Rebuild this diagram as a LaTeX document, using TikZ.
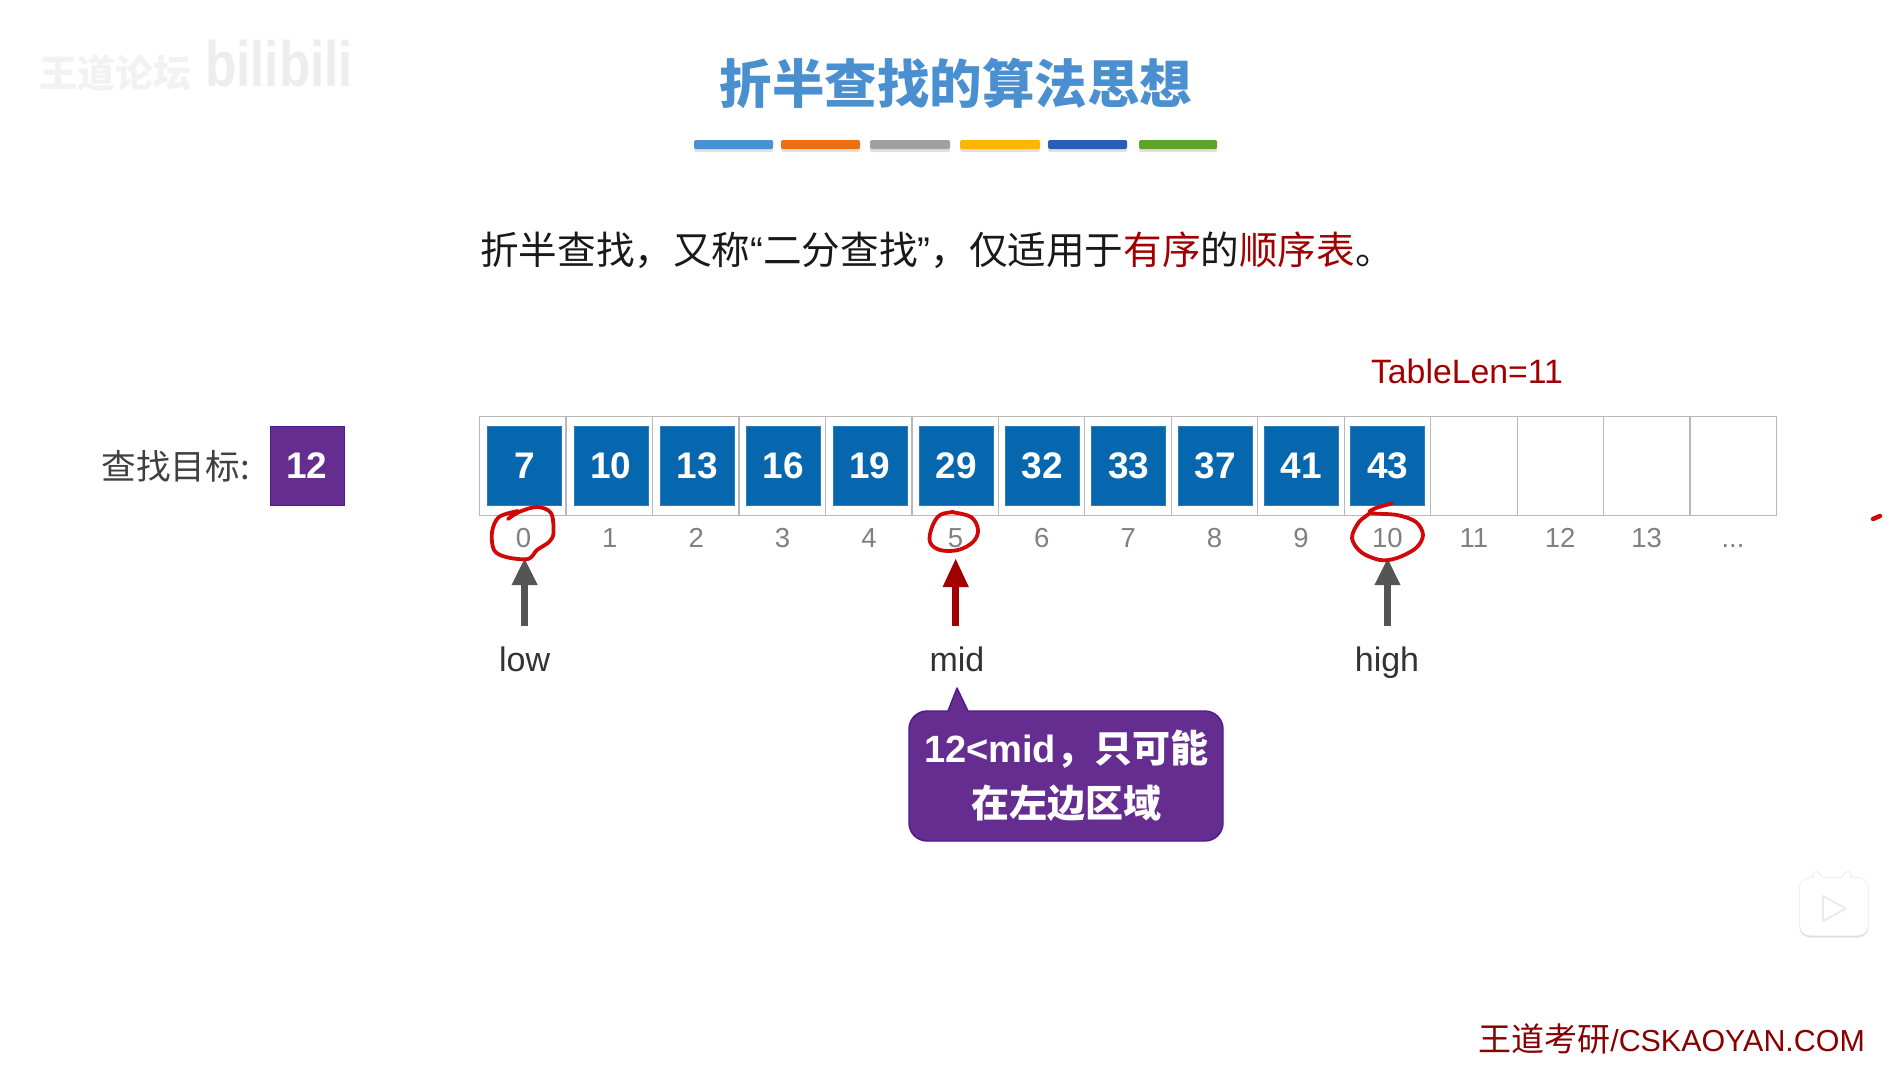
\documentclass[tikz,border=0pt]{standalone}
\usepackage{fontspec}
\usetikzlibrary{arrows.meta}
\setmainfont{Liberation Sans}
\newfontfamily\cjk{Noto Sans CJK SC}
\newcommand{\fsz}[1]{\fontsize{#1}{#1}\selectfont}
\definecolor{titleblue}{HTML}{4A8FD0}
\definecolor{cellblue}{HTML}{0667AE}
\definecolor{violet}{HTML}{662D91}
\definecolor{violetedge}{HTML}{4E1A8C}
\definecolor{darkred}{HTML}{A00000}
\definecolor{inkred}{HTML}{D00808}
\definecolor{arrowgray}{HTML}{555555}
\tikzset{
  cellbox/.style={draw=black!28,line width=1.2pt,minimum width=86.46pt,minimum height=99pt,inner sep=0pt},
  valbox/.style={fill=cellblue,draw=cellblue!85!white,line width=.6pt,minimum width=74pt,minimum height=79.5pt,inner sep=0pt,text=white,font=\fsz{37}\bfseries},
  idx/.style={inner sep=0pt,text=black!50,font=\fsz{27.5}},
  ptrlabel/.style={anchor=base,inner sep=0pt,text=black!80,font=\fsz{34}},
  ptrgray/.style={line width=7pt,arrowgray,-{Triangle[length=27pt,width=24pt]}},
  ptrred/.style={line width=7pt,darkred,-{Triangle[length=29pt,width=24pt]}},
  ink/.style={draw=inkred,line width=3.8pt,line cap=round,line join=round},
}
\begin{document}
\begin{tikzpicture}[x=1pt,y=-1pt]
\useasboundingbox (0,0) rectangle (1904,1066);
\fill[white] (0,0) rectangle (1904,1066);

% faint watermarks
\node[inner sep=0pt,text=black!5] (wm1) at (115,73) {\cjk\bfseries\fsz{38}王道论坛};
\node[inner sep=0pt,text=black!7,font=\fsz{64}\bfseries,xscale=.8] (wm2) at (279,64) {bilibili};

% title
\node[inner sep=0pt,text=titleblue] (title) at (956,83) {\cjk\bfseries\fsz{52.5}折半查找的算法思想};

% colour bars
\foreach \xa/\xb/\colr in {694/773/4A90D4,781/860/EE6F12,870/950/A0A0A0,960/1040/FDB600,1048/1127/2B5DB8,1139/1217/5EA42C}{
  \definecolor{barcol}{HTML}{\colr}
  \fill[black!12,rounded corners=1.5pt] (\xa,142) rectangle (\xb,152);
  \fill[barcol,rounded corners=1.5pt] (\xa,140) rectangle (\xb,149);
}

% statement
\node[anchor=west,inner sep=0pt,text=black!90] (intro) at (480,250.5) {\cjk\fsz{38.6}折半查找，又称{\rmfamily“}二分查找{\rmfamily”}，仅适用于\textcolor{darkred}{有序}的\textcolor{darkred}{顺序表}。};

% table length
\node[anchor=base,inner sep=0pt,text=darkred,font=\fsz{33.8}] (tlen) at (1467,383) {TableLen=11};

% target
\node[anchor=east,inner sep=0pt,text=black!75] (tlabel) at (250,466) {\cjk\fsz{34.6}查找目标:};
\node[fill=violet,draw=violetedge,line width=.8pt,minimum width=74pt,minimum height=79pt,inner sep=0pt,text=white,font=\fsz{37}\bfseries] (target) at (307,465.5) {12};

% empty cells and values
\foreach \i in {0,...,14}{
  \pgfmathsetmacro{\cx}{479.6+86.46*(\i+.5)}
  \node[cellbox] (cell\i) at (\cx,466) {};
}
\foreach \v [count=\i from 0] in {7,10,13,16,19,29,32,33,37,41,43}{
  \pgfmathsetmacro{\cx}{524.6+86.3*\i}
  \node[valbox] (val\i) at (\cx,466) {\v};
}
% indices
\foreach \i in {0,...,13}{
  \pgfmathsetmacro{\cx}{523.4+86.4*\i}
  \node[idx] (idx\i) at (\cx,538) {\i};
}
\node[idx,anchor=base] (idxmore) at (1733,547.5) {...};

% pointers
\node[ptrlabel] (low) at (524.6,671.5) {low};
\node[ptrlabel] (mid) at (957,671.5) {mid};
\node[ptrlabel] (high) at (1387,671.5) {high};
\coordinate (lowtail) at (524.6,626);
\coordinate (lowtip) at (524.6,558);
\coordinate (midtail) at (955.7,626);
\coordinate (midtip) at (955.7,558);
\coordinate (hightail) at (1387.5,626);
\coordinate (hightip) at (1387.5,558);
\draw[ptrgray] (lowtail) -- (lowtip);
\draw[ptrred] (midtail) -- (midtip);
\draw[ptrgray] (hightail) -- (hightip);

% callout
\draw[fill=violet,draw=violetedge,line width=1.4pt,line join=round]
  (948,711) [sharp corners] -- (957,688) -- (968,711)
  [rounded corners=18pt] -- (1223,711) -- (1223,841) -- (909,841) -- (909,711) [sharp corners] -- cycle;
\node[inner sep=0pt,text=white,font=\bfseries] (call1) at (1066,749) {\fsz{38}12<mid\cjk\bfseries，只可能};
\node[inner sep=0pt,text=white] (call2) at (1066,803) {\cjk\bfseries\fsz{38}在左边区域};

% footer
\node[anchor=base east,inner sep=0pt,text=darkred!85!black,font=\fsz{30.4}] (foot) at (1865,1051.5) {{\cjk\fsz{33}王道考研}/CSKAOYAN.COM};

% TV icon
\fill[black!6,rounded corners=11pt] (1799,877) rectangle (1869,938);
\fill[black!13,rounded corners=10pt] (1800,880) rectangle (1868,937);
\draw[black!8,line width=8pt,line cap=round] (1816,875) -- (1823,884);
\draw[black!8,line width=8pt,line cap=round] (1848,875) -- (1841,884);
\draw[white,line width=6pt,line cap=round] (1816,875) -- (1823,884);
\draw[white,line width=6pt,line cap=round] (1848,875) -- (1841,884);
\fill[white,rounded corners=10pt] (1800,878) rectangle (1868,935.5);
\draw[black!8,fill=white,line width=1.8pt,line join=round] (1823,896) -- (1846,908.5) -- (1823,921) -- cycle;

% hand-drawn red marks
\draw[ink] plot[smooth,tension=.55] coordinates {(508,519)(519,512)(537,507)(551,513)(553.5,533)(549,542)(537,550)(528,559)(506,557)(494,550)(492,532)(499,517)(518,511)};
\draw[ink] plot[smooth,tension=.6] coordinates {(951,512)(971,517)(978,530)(973,542)(958,550)(940,550)(930,542)(932,527)(940,515)(954,512)};
\draw[ink] plot[smooth,tension=.55] coordinates {(1392,503.5)(1376,508)(1370,513)(1397,515)(1416,522)(1423,535)(1416,548)(1397,558)(1380,560)(1361,552)(1352,538)(1359,522)(1372,512)};
\draw[ink,line width=4.5pt] (1873,519) -- (1880,516);
\end{tikzpicture}
\end{document}
